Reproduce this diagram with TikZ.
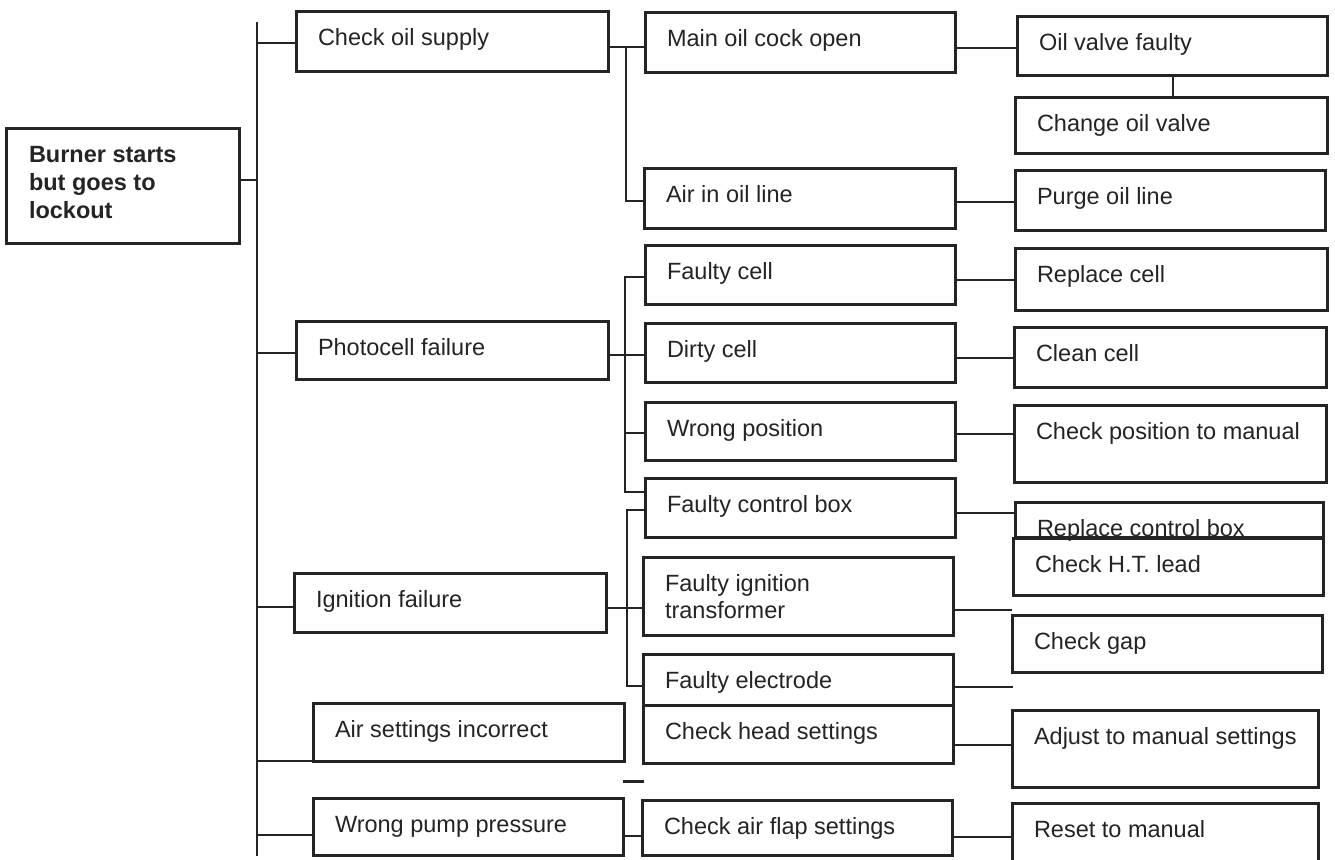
\documentclass[tikz,border=0pt]{standalone}
\usepackage{fontspec}
\setmainfont{Liberation Sans}
\definecolor{ink}{RGB}{36,36,36}
\tikzset{
  boxst/.style={draw=ink, line width=3pt, inner sep=0pt, outer sep=0pt},
  txt/.style={inner sep=0pt, outer sep=0pt, text=ink, font=\fontsize{23.5}{28}\selectfont, anchor=base west},
  conn/.style={draw=ink, line width=2.2pt}
}
\newcommand{\mybox}[6]{%
  \node[boxst, anchor=north west, minimum width={(#4-#2)*1pt}, minimum height={(#5-#3)*1pt}] (#1) at (#2,-#3) {};%
  \node[txt] (#1t) at ([xshift=22pt,yshift=-34pt]#1.north west) {#6};%
}
\begin{document}
\begin{tikzpicture}[x=1pt,y=1pt]
\useasboundingbox (0,0) rectangle (1335,-859);
\fill[white] (0,0) rectangle (1335,-859);
\clip (0,0) rectangle (1335,-859);

% root
\node[boxst, anchor=north west, minimum width=233pt, minimum height=115pt] (root) at (6,-128) {};
\node[txt, font=\fontsize{23.5}{28}\selectfont\bfseries] (rootA) at (29,-162) {Burner starts};
\node[txt, font=\fontsize{23.5}{28}\selectfont\bfseries] (rootB) at (29,-190) {but goes to};
\node[txt, font=\fontsize{23.5}{28}\selectfont\bfseries] (rootC) at (29,-218) {lockout};

% level 1
\mybox{cos}{296}{12}{608}{71}{Check oil supply}
\mybox{pf}{296}{321}{608}{379}{Photocell failure}
\mybox{ign}{294}{573}{606}{632}{Ignition failure}
\mybox{airs}{313}{703}{624}{761}{Air settings incorrect}
\mybox{pump}{313}{798}{623}{855}{Wrong pump pressure}

% level 2
\mybox{moc}{645}{13}{955}{72}{Main oil cock open}
\mybox{aol}{644}{168}{955}{228}{Air in oil line}
\mybox{fcell}{645}{245}{955}{304}{Faulty cell}
\mybox{dirty}{645}{323}{955}{382}{Dirty cell}
\mybox{wpos}{645}{402}{955}{460}{Wrong position}
\mybox{fcb}{645}{478}{955}{537}{Faulty control box}
\mybox{fit}{643}{557}{953}{635}{Faulty ignition}
\node[txt] (fitB) at (665,-618) {transformer};
\mybox{felec}{643}{654}{953}{705}{Faulty electrode}
\mybox{chs}{643}{705}{953}{763}{Check head settings}
\mybox{caf}{642}{800}{952}{855}{Check air flap settings}

% level 3
\mybox{ovf}{1017}{17}{1327}{75}{Oil valve faulty}
\mybox{cov}{1015}{97}{1327}{153}{Change oil valve}
\mybox{pol}{1015}{170}{1325}{230}{Purge oil line}
\mybox{rcell}{1015}{248}{1327}{310}{Replace cell}
\mybox{ccell}{1014}{327}{1326}{387}{Clean cell}
\mybox{cpos}{1014}{405}{1326}{482}{Check position to manual}
\mybox{rcb}{1015}{502}{1323}{537}{Replace control box}
\mybox{cht}{1013}{538}{1323}{595}{Check H.T. lead}
\mybox{cgap}{1012}{615}{1322}{672}{Check gap}
\mybox{adj}{1012}{710}{1318}{787}{Adjust to manual settings}
\mybox{reset}{1012}{803}{1318}{885}{Reset to manual}

% main bus
\coordinate (busT) at (257,-22);
\coordinate (busB) at (257,-856);
\draw[conn] (busT) -- (busB);
\draw[conn] (root.east |- 0,-180) -- (busT |- 0,-180);
\draw[conn] (busT |- 0,-43) -- (cos.west |- 0,-43);
\draw[conn] (busT |- 0,-353) -- (pf.west |- 0,-353);
\draw[conn] (busT |- 0,-607) -- (ign.west |- 0,-607);
\draw[conn] (busT |- airs.south west) -- (airs.south west);
\draw[conn] (busT |- 0,-835) -- (pump.west |- 0,-835);

% oil supply bracket
\coordinate (j1) at (626,-47);
\draw[conn] (cos.east |- j1) -- (moc.west |- j1);
\draw[conn] (j1) |- (aol.west |- 0,-201);

% photocell bracket
\coordinate (j2t) at (625,-277);
\coordinate (j2b) at (625,-492);
\draw[conn] (fcell.west |- j2t) -- (j2t) -- (j2b) -- (fcb.west |- j2b);
\draw[conn] (pf.east |- 0,-355) -- (dirty.west |- 0,-355);
\draw[conn] (j2t |- 0,-433) -- (wpos.west |- 0,-433);

% ignition bracket
\coordinate (j3t) at (627,-510);
\coordinate (j3b) at (627,-686);
\draw[conn] (fcb.west |- j3t) -- (j3t) -- (j3b) -- (felec.west |- j3b);
\draw[conn] (ign.east |- 0,-608) -- (fit.west |- 0,-608);

% pump bracket
\draw[conn] (pump.east |- 0,-836) -- (caf.west |- 0,-836);
\coordinate (dashA) at (623,-781);
\coordinate (dashB) at (644,-781);
\draw[draw=ink, line width=3pt] (dashA) -- (dashB);

% level 2 -> level 3
\draw[conn] (moc.east |- 0,-48) -- (ovf.west |- 0,-48);
\draw[conn] (ovf.south -| 1173,0) -- (cov.north -| 1173,0);
\draw[conn] (aol.east |- 0,-202) -- (pol.west |- 0,-202);
\draw[conn] (fcell.east |- 0,-280) -- (rcell.west |- 0,-280);
\draw[conn] (dirty.east |- 0,-358) -- (ccell.west |- 0,-358);
\draw[conn] (wpos.east |- 0,-434) -- (cpos.west |- 0,-434);
\draw[conn] (fcb.east |- 0,-513) -- (rcb.west |- 0,-513);
\draw[conn] (fit.east |- 0,-610) -- (cgap.west |- 0,-610);
\coordinate (felecEnd) at (1013,-687);
\draw[conn] (felec.east |- felecEnd) -- (felecEnd);
\draw[conn] (chs.east |- 0,-745) -- (adj.west |- 0,-745);
\draw[conn] (caf.east |- 0,-837) -- (reset.west |- 0,-837);
\end{tikzpicture}
\end{document}
